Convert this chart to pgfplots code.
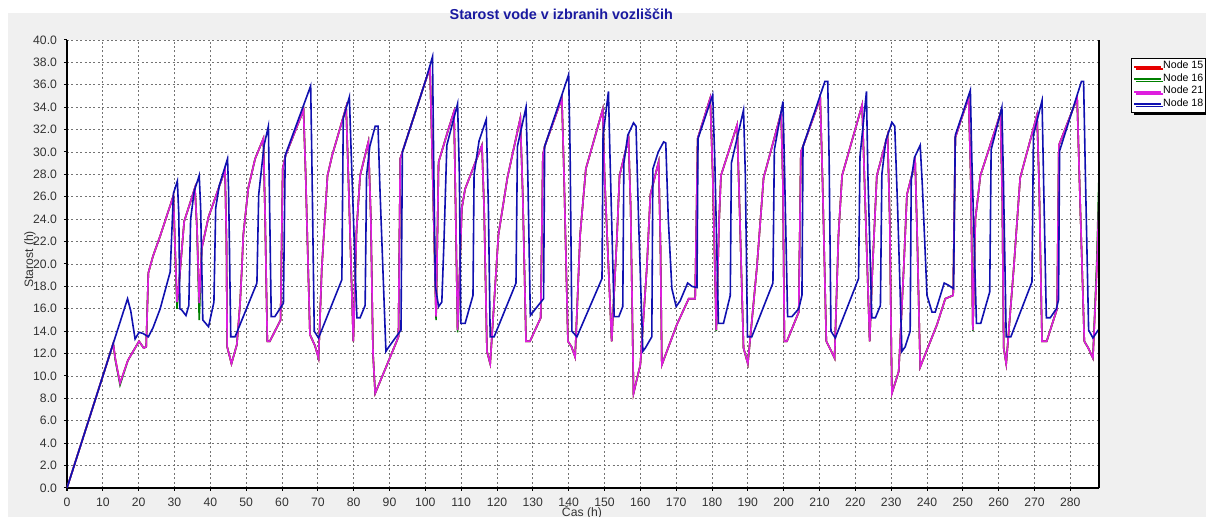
\documentclass[border=0pt]{standalone}
\usepackage{fontspec}
\setmainfont{Liberation Sans}
\usepackage{pgfplots}
\usepackage{pgfplotstable}
\pgfplotsset{compat=1.18}
\usetikzlibrary{shadows}
\definecolor{bgc}{RGB}{240,240,240}
\definecolor{nblue}{RGB}{16,16,176}
\definecolor{nmag}{RGB}{222,30,222}
\definecolor{ngreen}{RGB}{0,128,0}
\definecolor{nred}{RGB}{230,0,0}
\definecolor{ttl}{RGB}{26,26,160}

\pgfplotstableread{
x y
0 0
12.9 12.9
13.5 11.5
14.8 9.35
17 11.4
20.1 13.1
21.4 12.5
22.1 12.6
22.7 19.2
24 20.7
26 22.5
29.7 26.1
30.1 22
30.7 16.6
31.2 18
32.7 23.8
35.7 26.8
36.3 23
36.9 16.5
37.6 21.4
39.5 24.2
44.1 28.4
44.5 22
44.7 12.6
45.9 11.1
47.4 12.8
48.3 16.5
48.8 19.6
49.2 22.6
50.6 26.8
52.5 29.4
54.8 31.2
55.3 24
55.9 13.1
56.6 13.1
59.6 15.0
60.2 28.5
61 29.7
66 33.75
66.6 28
67.8 13.7
69.2 12.7
70.2 11.6
71.1 19.6
72.7 27.9
74 29.7
77.9 34.0
78.5 28
79.9 13.1
80.8 23
81.8 27.9
84.1 30.9
84.8 24
85.4 12
86 8.45
89.3 11.0
92 13.1
92.5 13.5
93 29.4
93.6 30.0
100 36.3
101.3 37.5
101.9 30
103 15.3
103.7 29.1
106.5 32.1
108 33.6
108.4 26
109 14.1
110.2 25
111.1 26.7
115.8 30.6
116.4 25
117.2 12.2
118.1 11.1
120.4 22.6
122.9 27.7
126.5 33.0
127.2 26
128.1 13.1
129.2 13.1
132.2 15.2
132.8 29.7
133.3 30.5
138.1 34.8
138.7 28
139.8 13.1
140.8 12.6
141.8 11.7
143.2 22.6
144.8 28.5
149.5 33.8
150 28
152 13.1
153.5 22.6
154.2 27.9
156.7 31.2
157.3 25
158.1 8.45
160 11.0
161.8 19.6
162.8 26.2
165.1 29.1
165.6 22
166 11.0
170.2 14.6
173.5 16.9
175.3 16.9
176 31.2
179.5 34.8
180.2 28
181.2 14.1
182 24
182.5 27.9
187 32.4
187.6 26
188.8 12.5
190 11.1
192.5 19.6
194.4 27.7
199.3 33.5
199.8 27
200.2 13.1
200.9 13.1
204.2 15.7
204.8 30.0
205.4 30.5
210.2 34.8
210.8 28
211.9 13.1
213 12.4
214.2 11.6
215.3 22.6
216.3 27.9
221.9 34.2
222.6 27
224 13.1
224.7 19
226 27.9
229 31.5
229.6 24
230.2 8.45
232.1 10.4
233.5 19.6
234.4 26.2
236.7 29.1
237.3 22
238.1 10.8
242.8 14.6
245.1 16.9
247.3 17.2
247.9 31.3
251.6 34.9
252.2 28
252.8 14.1
253.5 24
254.9 27.9
260.5 33.45
261 26
261.4 12.5
262.1 11.1
264.2 19.6
266 27.7
270.7 33.3
271.3 27
272.1 13.1
273.4 13.1
276.3 16.0
276.8 30.6
281.9 34.8
282.5 28
283.9 13.1
285 12.5
286.3 11.6
287.4 19.6
288 26
}\nodeXXI

\pgfplotstableread{
x y
0 0
12.9 12.9
13.5 11.4
14.8 9.2
17 11.4
20.1 13.1
21.4 12.5
22.1 12.6
22.7 19.2
24 20.7
26 22.5
29.7 26.1
30.1 22
30.7 16.0
31.2 18
32.7 23.8
35.7 26.8
36.3 23
36.9 15.0
37.6 21.4
39.5 24.2
44.1 28.4
44.5 22
44.7 12.6
45.9 11.1
47.4 12.8
48.3 16.5
48.8 19.6
49.2 22.6
50.6 26.8
52.5 29.4
54.8 31.2
55.3 24
55.9 13.1
56.6 13.1
59.6 15.0
60.2 28.5
61 29.7
66 33.75
66.6 28
67.8 13.7
69.2 12.7
70.2 11.6
71.1 19.6
72.7 27.9
74 29.7
77.9 34.0
78.5 28
79.9 13.1
80.8 23
81.8 27.9
84.1 30.9
84.8 24
85.4 12
86 8.45
89.3 11.0
92 13.1
92.5 13.5
93 29.4
93.6 30.0
100 36.3
101.3 37.5
101.9 30
103 15.0
103.7 29.1
106.5 32.1
108 33.6
108.4 26
109 13.9
110.2 25
111.1 26.7
115.8 30.6
116.4 25
117.2 12.2
118.1 11.1
120.4 22.6
122.9 27.7
126.5 33.0
127.2 26
128.1 13.1
129.2 13.1
132.2 15.2
132.8 29.7
133.3 30.5
138.1 34.8
138.7 28
139.8 13.1
140.8 12.6
141.8 11.7
143.2 22.6
144.8 28.5
149.5 33.8
150 28
152 13.1
153.5 22.6
154.2 27.9
156.7 31.2
157.3 25
158.1 8.45
160 11.0
161.8 19.6
162.8 26.2
165.1 29.1
165.6 22
166 11.0
170.2 14.6
173.5 16.9
175.3 16.9
176 31.2
179.5 34.8
180.2 28
181.2 14.0
182 24
182.5 27.9
187 32.4
187.6 26
188.8 12.5
190 11.1
192.5 19.6
194.4 27.7
199.3 33.5
199.8 27
200.2 13.1
200.9 13.1
204.2 15.7
204.8 30.0
205.4 30.5
210.2 34.8
210.8 28
211.9 13.1
213 12.4
214.2 11.6
215.3 22.6
216.3 27.9
221.9 34.2
222.6 27
224 13.1
224.7 19
226 27.9
229 31.5
229.6 24
230.2 8.45
232.1 10.4
233.5 19.6
234.4 26.2
236.7 29.1
237.3 22
238.1 10.8
242.8 14.6
245.1 16.9
247.3 17.2
247.9 31.3
251.6 34.9
252.2 28
252.8 14.0
253.5 24
254.9 27.9
260.5 33.45
261 26
261.4 12.5
262.1 11.1
264.2 19.6
266 27.7
270.7 33.3
271.3 27
272.1 13.1
273.4 13.1
276.3 16.0
276.8 30.6
281.9 34.8
282.5 28
283.9 13.1
285 12.5
286.3 11.6
287.4 20.5
288 28
}\nodeXVI

\pgfplotstableread{
x y
0 0
13 13.0
16.9 16.9
17.8 15.8
19 13.3
20.1 13.9
21.2 13.8
22.7 13.5
24 14.3
26 16.0
28.8 19.3
29.7 26.3
30.8 27.4
31.2 24.4
31.5 16.0
32 15.9
33.2 15.4
34 16.3
34.5 24.0
35.5 26.5
36.9 27.9
37.3 25.0
37.9 15.0
39.5 14.4
41 16.6
41.5 25.0
42.5 27.0
44.8 29.4
45.1 26.5
45.7 13.5
46.9 13.5
53 18.3
53.5 26.2
55 30.6
56.2 32.3
56.5 26.0
57 15.3
58 15.3
60.4 16.5
60.9 29.7
68.0 35.9
68.3 30.0
69.0 14.0
70.2 13.4
76.7 18.6
77.1 33.0
78.8 34.9
79.3 30
80.9 15.2
81.8 15.2
83.2 16.3
83.6 27.9
84.5 30.5
86 32.3
86.8 32.3
87.3 27
89 12.2
89.6 12.5
93.2 14.1
93.6 30.0
100 36.3
102 38.5
102.3 30
102.8 18
103.7 16.2
104.6 16.6
105.2 22
106 30.6
109 34.3
109.5 28
109.9 14.7
111.1 14.7
113.3 17.2
113.6 28.0
115 31
117 32.9
117.6 25
118.1 13.5
119.2 13.5
125.3 18.3
125.7 30.5
128.1 34.0
128.6 28
129.3 15.4
131 16.1
133 16.9
133.3 30.5
140 36.9
140.4 30
140.9 14.0
142.3 13.5
149.3 18.7
149.6 31.5
151.1 35.4
151.5 30
152.7 15.3
154 15.3
155.1 16.2
155.4 29
156.5 31.5
158.1 32.6
158.8 32.3
159.5 24
160.7 12.2
161.4 12.5
163.2 13.5
163.5 28.5
165 30
166.5 30.9
167.1 30.8
167.8 24
168.8 17.8
170 16.2
171.1 16.7
173.2 18.3
174.4 18.0
175.8 17.9
176.1 31.2
180.2 35.1
180.8 29
181.8 14.7
183.2 14.7
185.1 17.2
185.4 29
188.8 33.75
189.3 28
189.9 13.5
191.1 13.5
197 18.3
197.4 30.2
199.8 34.5
200.2 29
201.1 15.3
202.3 15.3
204.2 16.0
205.1 17.2
205.4 30.5
211.5 36.3
212.3 36.3
212.7 29
213.2 14.0
214.4 13.4
220.9 18.7
221.3 29.6
223.1 35.4
223.5 28
224.6 15.2
225.6 15.2
227 16.3
227.4 28
228.5 31
230.2 32.65
231 32.3
231.8 25
233 12.2
233.9 12.6
235.3 14.0
235.6 27.5
236.5 29.5
238.1 30.6
238.7 27
240 17.2
241.4 15.7
242.3 15.7
244.8 18.3
246 18.1
247.4 17.8
247.9 31.5
252.1 35.5
252.5 29.5
253.8 14.7
255 14.7
257.5 17.5
257.9 30.2
260.9 34.0
261.3 28
262.1 13.5
263.4 13.5
269.3 18.4
269.7 31.5
272.1 34.6
272.5 28
273.3 15.2
274.4 15.2
276.1 16.0
276.7 16.8
277 30.1
283.1 36.3
283.7 36.3
284.2 28
285.1 14.1
286.3 13.4
288 14.2
}\nodeXVIII

\begin{document}
\begin{tikzpicture}
\path[use as bounding box, fill=white] (-33.5pt,-14.5pt) rectangle (569.5pt,244pt);
\fill[bgc] (-29.5pt,-14.5pt) rectangle (569.5pt,237.5pt);
\begin{axis}[
  name=ax,
  at={(0,0)}, anchor=south west,
  scale only axis, width=516pt, height=224pt,
  xmin=0, xmax=288, ymin=0, ymax=40,
  xtick={0,10,...,280}, ytick={0,2,...,40},
  axis background/.style={fill=white},
  grid=major,
  major grid style={draw=black!55, line width=0.4pt, dash pattern=on 1pt off 1.2pt},
  axis x line*=bottom, axis y line*=left,
  axis line style={black, line width=1pt},
  tick align=outside, major tick length=1.5pt,
  tick style={black, line width=0.5pt},
  /pgf/number format/assume math mode=true,
  ticklabel style={font=\fontsize{6.1}{7}\selectfont, color=black!80},
  yticklabel style={/pgf/number format/fixed, /pgf/number format/fixed zerofill, /pgf/number format/precision=1},
  xlabel={Čas (h)},
  xlabel style={at={(axis description cs:0.499,-0.054)}, anchor=center, font=\fontsize{6.1}{7}\selectfont, color=black!80},
  ylabel={Starost (h)},
  ylabel style={at={(axis description cs:-0.036,0.51)}, anchor=center, font=\fontsize{6.1}{7}\selectfont, color=black!80},
  title={Starost vode v izbranih vozliščih},
  title style={at={(axis description cs:0.479,1)}, yshift=7pt, anchor=center, font=\fontsize{7.2}{8}\selectfont\bfseries, color=ttl},
  legend style={at={(axis description cs:1.031,0.96)}, anchor=north west,
    font=\fontsize{5.3}{6}\selectfont, draw=black, line width=0.6pt, fill=white,
    inner sep=0.8pt, row sep=-0.3pt,
    drop shadow={shadow xshift=1pt, shadow yshift=-1.2pt, fill=black, opacity=1},
    nodes={inner sep=0.6pt}},
  legend cell align=left,
  legend image code/.code={\draw[#1, line width=0.9pt] (0pt,0pt) -- (13.5pt,0pt);},
]
\addplot[nred, line width=0.8pt] table[x=x,y=y] {\nodeXXI};
\addlegendentry{Node 15}
\addplot[ngreen, line width=0.8pt] table[x=x,y=y] {\nodeXVI};
\addlegendentry{Node 16}
\addplot[nmag, line width=0.8pt] table[x=x,y=y] {\nodeXXI};
\addlegendentry{Node 21}
\addplot[nblue, line width=0.8pt] table[x=x,y=y] {\nodeXVIII};
\addlegendentry{Node 18}
\end{axis}
\draw[black, line width=0.7pt] (ax.south east) -- (ax.north east);
\end{tikzpicture}
\end{document}
